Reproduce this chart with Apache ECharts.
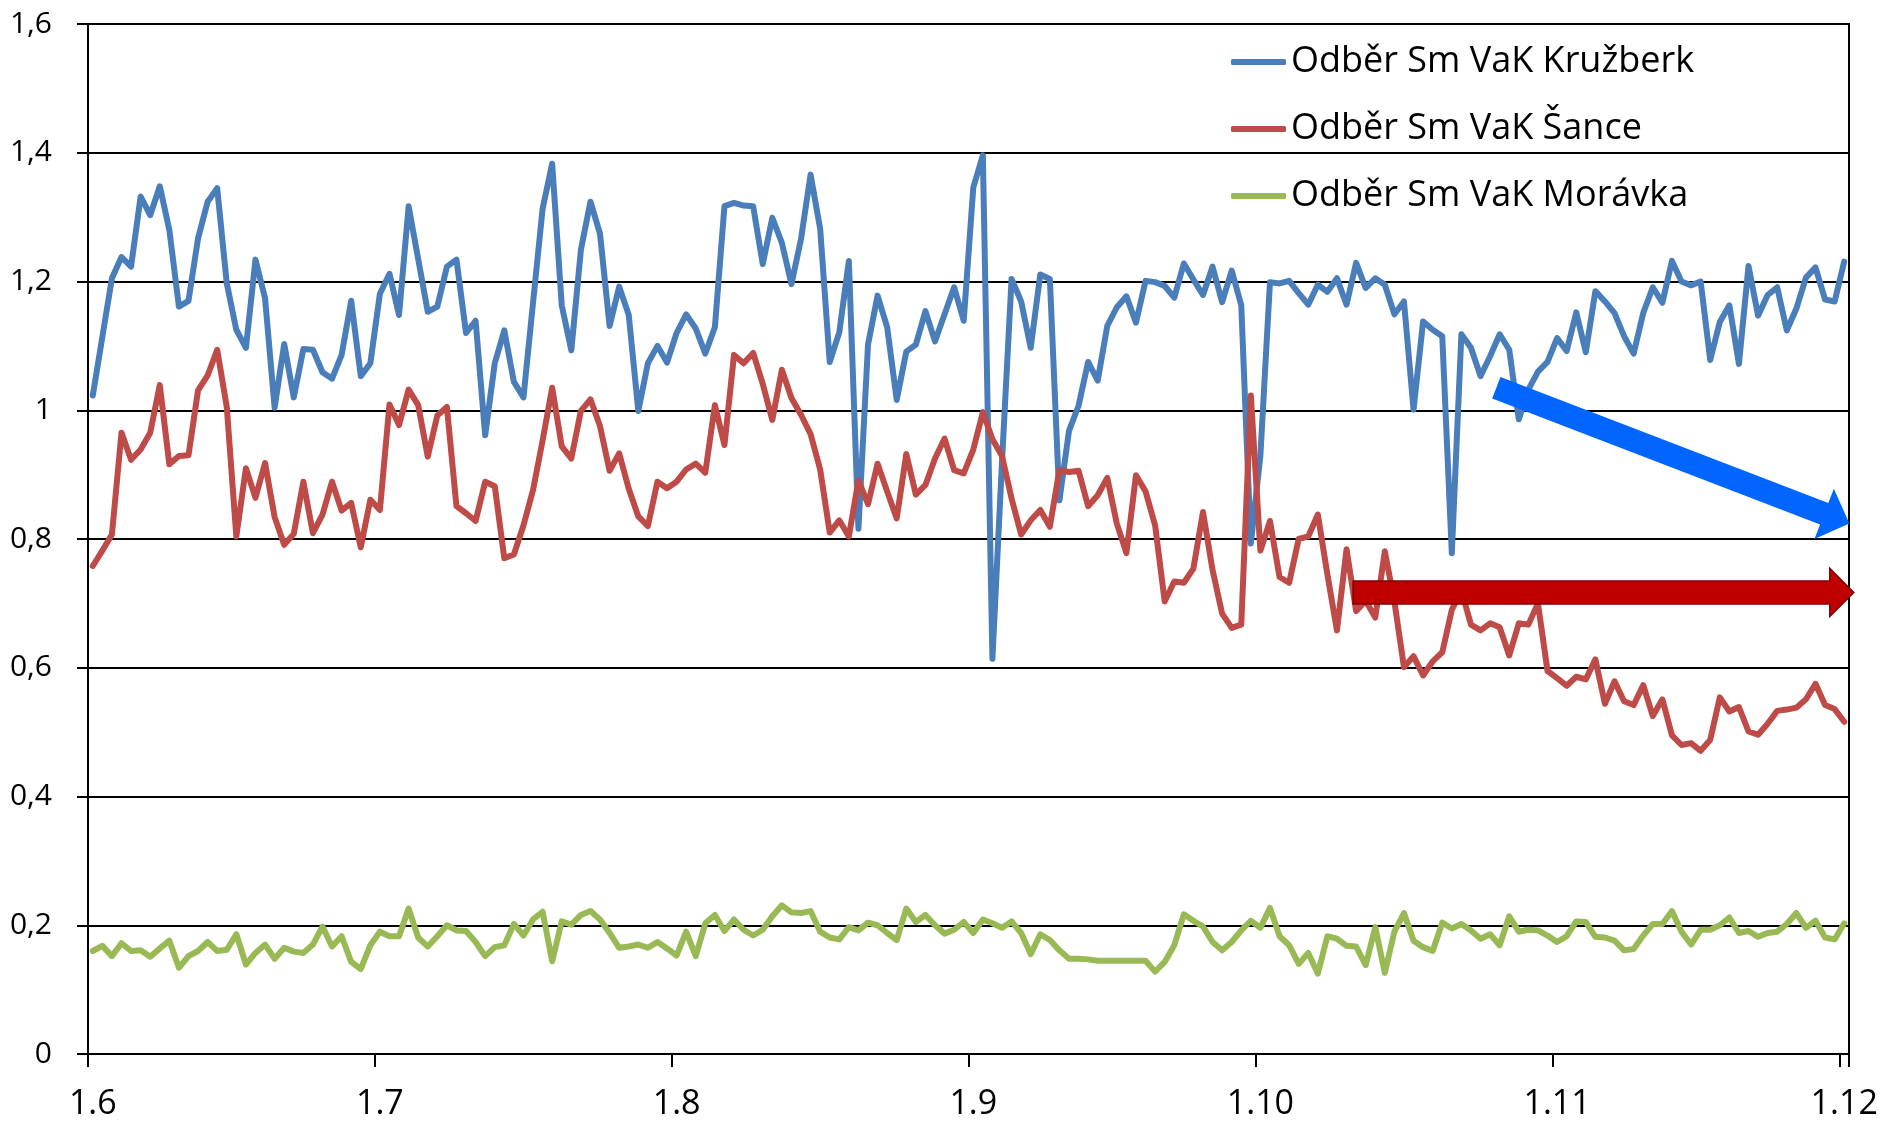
<!DOCTYPE html>
<html><head><meta charset="utf-8">
<script src="https://cdn.jsdelivr.net/npm/echarts/dist/echarts.min.js"></script>
<style>html,body{margin:0;padding:0;background:#fff}#c{width:1886px;height:1128px}</style>
</head><body><div id="c"></div>
<script>
// ---- categories: one per day, 1.6 .. 1.12 ----
const monthNames = ['6','7','8','9','10','11','12'];
const monthLengths = [30,31,31,30,31,30,1];
const categories = [];
monthNames.forEach((m,k)=>{ for(let d=1; d<=monthLengths[k]; d++) categories.push(d+'.'+m); });

const tickLabels = ['1.6','1.7','1.8','1.9','1.10','1.11','1.12'];
const yTicks = [0,0.2,0.4,0.6,0.8,1.0,1.2,1.4,1.6];

const seriesNames = ['Odběr Sm VaK Kružberk','Odběr Sm VaK Šance','Odběr Sm VaK Morávka'];

const kruzberk = [
1.023,1.114,1.205,1.238,1.223,1.332,1.303,1.348,1.280,1.161,
1.170,1.267,1.324,1.345,1.197,1.125,1.097,1.234,1.174,1.004,
1.103,1.020,1.095,1.094,1.059,1.049,1.086,1.170,1.053,1.073,
1.181,1.212,1.148,1.317,1.235,1.153,1.161,1.223,1.234,1.120,
1.139,0.961,1.073,1.124,1.044,1.020,1.167,1.313,1.383,1.163,
1.093,1.249,1.324,1.274,1.131,1.192,1.148,0.999,1.073,1.100,
1.074,1.120,1.149,1.127,1.088,1.129,1.317,1.322,1.318,1.317,
1.227,1.299,1.260,1.196,1.266,1.366,1.282,1.075,1.121,1.232,
0.816,1.102,1.178,1.129,1.016,1.091,1.102,1.154,1.107,1.149,
1.191,1.139,1.346,1.396,0.614,0.920,1.204,1.169,1.097,1.211,
1.204,0.860,0.968,1.007,1.075,1.046,1.131,1.160,1.177,1.136,
1.201,1.199,1.193,1.175,1.228,1.203,1.179,1.223,1.168,1.217,
1.163,0.793,0.930,1.199,1.197,1.201,1.182,1.164,1.195,1.184,
1.205,1.164,1.229,1.190,1.205,1.195,1.149,1.169,1.001,1.138,
1.125,1.115,0.778,1.118,1.097,1.053,1.084,1.118,1.094,0.986,
1.032,1.060,1.075,1.112,1.092,1.152,1.090,1.185,1.169,1.151,
1.115,1.088,1.151,1.191,1.167,1.232,1.200,1.194,1.200,1.078,
1.137,1.163,1.072,1.224,1.147,1.179,1.191,1.124,1.158,1.206,
1.222,1.172,1.169,1.231];

const sance = [
0.758,0.782,0.807,0.965,0.923,0.939,0.965,1.039,0.916,0.929,
0.930,1.031,1.054,1.094,1.005,0.804,0.910,0.864,0.918,0.834,
0.791,0.808,0.889,0.809,0.838,0.889,0.844,0.856,0.787,0.861,
0.845,1.009,0.977,1.032,1.008,0.928,0.992,1.005,0.851,0.840,
0.828,0.889,0.882,0.770,0.776,0.821,0.876,0.953,1.035,0.944,
0.925,0.999,1.017,0.975,0.906,0.933,0.878,0.835,0.820,0.889,
0.879,0.889,0.908,0.917,0.903,1.008,0.946,1.086,1.073,1.089,
1.041,0.985,1.063,1.019,0.993,0.963,0.908,0.810,0.829,0.804,
0.891,0.854,0.917,0.874,0.832,0.932,0.869,0.884,0.925,0.956,
0.907,0.902,0.939,0.997,0.955,0.929,0.863,0.807,0.829,0.845,
0.819,0.907,0.904,0.906,0.851,0.868,0.895,0.824,0.778,0.899,
0.874,0.821,0.703,0.734,0.732,0.754,0.842,0.752,0.684,0.662,
0.667,1.023,0.782,0.828,0.741,0.732,0.800,0.804,0.838,0.745,
0.658,0.784,0.688,0.704,0.678,0.781,0.703,0.601,0.618,0.588,
0.610,0.624,0.690,0.720,0.667,0.658,0.669,0.663,0.619,0.669,
0.667,0.700,0.595,0.584,0.572,0.586,0.582,0.613,0.544,0.579,
0.548,0.542,0.573,0.525,0.551,0.495,0.480,0.483,0.471,0.488,
0.554,0.532,0.539,0.501,0.496,0.513,0.533,0.535,0.538,0.551,
0.575,0.542,0.536,0.516];

const moravka = [
0.160,0.168,0.152,0.172,0.160,0.161,0.151,0.164,0.176,0.134,
0.152,0.160,0.174,0.160,0.162,0.186,0.139,0.157,0.170,0.148,
0.165,0.159,0.157,0.170,0.198,0.167,0.183,0.143,0.132,0.169,
0.190,0.183,0.183,0.226,0.181,0.167,0.183,0.200,0.192,0.191,
0.174,0.152,0.166,0.169,0.202,0.184,0.209,0.221,0.144,0.206,
0.201,0.216,0.222,0.209,0.188,0.165,0.167,0.170,0.165,0.174,
0.164,0.153,0.190,0.152,0.203,0.216,0.191,0.209,0.193,0.184,
0.193,0.214,0.231,0.220,0.219,0.222,0.190,0.181,0.178,0.197,
0.192,0.204,0.200,0.188,0.177,0.226,0.205,0.216,0.200,0.187,
0.193,0.205,0.188,0.209,0.203,0.196,0.206,0.188,0.155,0.186,
0.177,0.161,0.148,0.148,0.147,0.145,0.145,0.145,0.145,0.145,
0.145,0.128,0.143,0.169,0.217,0.207,0.198,0.174,0.161,0.174,
0.192,0.207,0.196,0.227,0.183,0.169,0.140,0.157,0.125,0.183,
0.179,0.168,0.167,0.138,0.197,0.126,0.190,0.219,0.176,0.166,
0.160,0.204,0.195,0.202,0.192,0.179,0.186,0.169,0.214,0.190,
0.193,0.192,0.184,0.174,0.183,0.206,0.205,0.182,0.181,0.176,
0.161,0.163,0.184,0.202,0.202,0.222,0.190,0.170,0.193,0.193,
0.200,0.212,0.188,0.191,0.182,0.188,0.190,0.202,0.219,0.196,
0.207,0.181,0.178,0.203];

// annotation arrows, anchored in data coordinates [day index, value]
const blueArrow = {from:[146.65,1.035], to:[183.54,0.824]};
const redArrow  = {from:[131.68,0.717], to:[184.0,0.717]};

const colors = ['#4A7EBB','#BE4B48','#98B954'];
const FONT = 'Open Sans';
const tickIdx = new Set(tickLabels.map(l=>categories.indexOf(l)));

const chart = echarts.init(document.getElementById('c'), null, {renderer:'canvas'});
const mkSeries = (name, data, color) => ({
  name, type:'line', data, symbol:'none', smooth:false, color,
  lineStyle:{width:6, color, join:'round', cap:'round'}, z:3
});
chart.setOption({
  animation:false,
  backgroundColor:'#fff',
  textStyle:{fontFamily:FONT},
  grid:{left:88, right:37, top:24, bottom:74, show:true, borderColor:'#000', borderWidth:2, backgroundColor:'transparent'},
  legend:{
    orient:'vertical', left:1226, top:37, itemWidth:55, itemHeight:6, itemGap:27,
    icon:'roundRect',
    textStyle:{fontFamily:FONT, fontSize:36, color:'#000', lineHeight:40},
    data:seriesNames
  },
  xAxis:{
    type:'category', data:categories, boundaryGap:true,
    axisLine:{show:true, onZero:false, lineStyle:{color:'#000', width:2}},
    axisTick:{show:true, length:13, interval:(i)=>tickIdx.has(i), lineStyle:{color:'#000', width:2}},
    axisLabel:{interval:(i,v)=>tickIdx.has(i), fontFamily:FONT, fontSize:34, color:'#000', margin:33,
      formatter:(v)=>v},
    splitLine:{show:false}
  },
  yAxis:{
    type:'value', min:yTicks[0], max:yTicks[yTicks.length-1], interval:0.2,
    axisLine:{show:true, lineStyle:{color:'#000', width:2}},
    axisTick:{show:true, length:11, lineStyle:{color:'#000', width:2}},
    axisLabel:{fontFamily:FONT, fontSize:30, color:'#000', margin:36,
      formatter:(v)=>String(+v.toFixed(1)).replace('.',',')},
    splitLine:{show:true, lineStyle:{color:'#000', width:2}}
  },
  series:[
    mkSeries(seriesNames[0], kruzberk, colors[0]),
    mkSeries(seriesNames[1], sance, colors[1]),
    mkSeries(seriesNames[2], moravka, colors[2])
  ]
});

function toPx(pt){
  const a = chart.convertToPixel({gridIndex:0},[0,pt[1]]);
  const b = chart.convertToPixel({gridIndex:0},[1,pt[1]]);
  return [a[0] + (b[0]-a[0])*pt[0], a[1]];
}
function arrowPoly(f, t, w, hw, hl){
  const S = toPx(f), T = toPx(t);
  const dx = T[0]-S[0], dy = T[1]-S[1], L = Math.hypot(dx,dy);
  const ux = dx/L, uy = dy/L, nx = -uy, ny = ux;
  const B = [T[0]-ux*hl, T[1]-uy*hl];
  const P = (p,k)=>[p[0]+nx*k, p[1]+ny*k];
  return [P(S,w/2), P(B,w/2), P(B,hw/2), T, P(B,-hw/2), P(B,-w/2), P(S,-w/2)];
}
chart.setOption({
  graphic:[
    {type:'polygon', z:100, shape:{points:arrowPoly(blueArrow.from, blueArrow.to, 23, 54, 27)}, style:{fill:'#0066FF'}},
    {type:'polygon', z:100, shape:{points:arrowPoly(redArrow.from, redArrow.to, 23, 48, 24)}, style:{fill:'#C00000', stroke:'#7F0000', lineWidth:1.5}}
  ]
});
</script></body></html>
